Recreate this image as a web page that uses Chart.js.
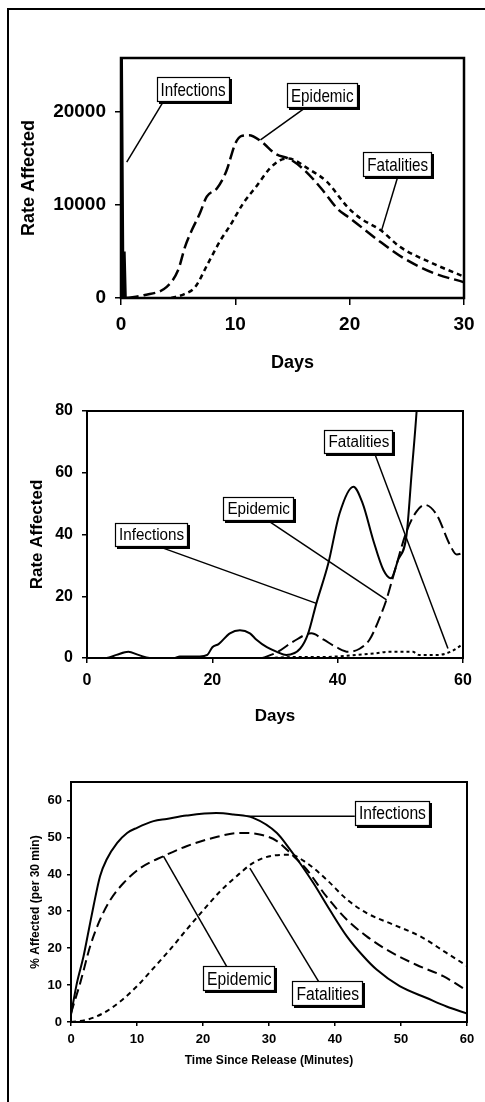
<!DOCTYPE html>
<html>
<head>
<meta charset="utf-8">
<script src="https://cdn.jsdelivr.net/npm/chart.js@4"></script>
<style>
  body { margin: 0; background: #fff; }
  #page { position: relative; width: 485px; height: 1102px; overflow: hidden; }
  #frame { position: absolute; left: 7px; top: 8px; width: 500px; height: 1120px;
           border-left: 2px solid #000; border-top: 2px solid #000; }
  canvas { position: absolute; left: 0; }
</style>
</head>
<body>
<div id="page">
  <div id="frame"></div>
  <canvas id="chart1" width="485" height="385" style="top:0"></canvas>
  <canvas id="chart2" width="485" height="345" style="top:385px"></canvas>
  <canvas id="chart3" width="485" height="372" style="top:730px"></canvas>
</div>
<script>
// ---- Chart 1: days 0-30, rate affected
const c1XTicks = [0, 10, 20, 30];
const c1YTicks = [0, 10000, 20000];
const c1InfDays = [0, 0.04, 0.2, 0.3, 0.4, 0.55];
const c1InfVals = [0, 30000, 0, 5000, 0, 0];
const c1EpiDays = [0.5, 2, 4, 5, 5.6, 6.2, 6.9, 7.5, 8.4, 9.2, 10, 10.5, 11.2, 12.3, 13.5, 14.8, 16, 17.5, 19, 20, 22.5, 24.7, 27.3, 30];
const c1EpiVals = [0, 300, 1200, 3000, 5500, 7300, 9100, 10900, 11800, 13600, 16600, 17400, 17500, 16800, 15500, 14900, 13800, 11800, 9500, 8600, 6200, 4300, 2700, 1700];
const c1FatDays = [4.4, 5.5, 6.5, 7.6, 8.7, 9.5, 10.7, 11.9, 13, 13.9, 14.6, 16.5, 18, 19.8, 20.9, 22.7, 24.4, 27.3, 30];
const c1FatVals = [0, 400, 1200, 3700, 6200, 7700, 10200, 12100, 13900, 14800, 15000, 13800, 12500, 9800, 8600, 7300, 5500, 3700, 2300];

// ---- Chart 2: days 0-60, rate affected
const c2XTicks = [0, 20, 40, 60];
const c2YTicks = [0, 20, 40, 60, 80];
const c2InfDays = [0, 3.1, 4.7, 6.6, 8.2, 10, 14, 14.8, 16.5, 18, 19.2, 20, 21, 22.8, 24.4, 26, 27, 28.7, 30.3, 31.8, 34, 35.3, 36.6, 38.5, 40.3, 42.5, 44, 45.7, 47.3, 48.5, 49.6, 51, 51.8, 52.6, 53.5];
const c2InfVals = [0, 0, 1, 2, 1, 0, 0, 0.5, 0.5, 0.5, 1, 3.5, 4.5, 8, 9, 8, 6, 3.5, 2, 1, 3, 8, 17.7, 30.6, 46.8, 55.5, 50, 38, 28.5, 25.8, 31.5, 40, 59.8, 80, 110];
const c2EpiDays = [28, 30.2, 32.9, 35.8, 37.7, 39.8, 41.7, 43.5, 45.1, 46.5, 47.8, 48.8, 51, 52.6, 53.9, 55.8, 57.9, 59, 60];
const c2EpiVals = [0, 1.7, 5.3, 8, 6, 3.5, 2, 3, 6, 12, 19, 26, 41, 47.5, 49.6, 46.4, 36.7, 33.5, 34];
const c2FatDays = [29, 33, 37, 40, 43, 46, 48, 52, 53, 56, 58, 60];
const c2FatVals = [0, 0.3, 0.3, 0.5, 1, 1.5, 2, 2, 1, 1, 2, 4.5];

// ---- Chart 3: minutes 0-60, % affected per 30 min
const c3XTicks = [0, 10, 20, 30, 40, 50, 60];
const c3YTicks = [0, 10, 20, 30, 40, 50, 60];
const c3InfMins = [0, 0.9, 1.9, 2.7, 3.4, 4.4, 5.4, 7, 8.5, 10, 12.5, 14.5, 17.5, 22, 24.6, 27.6, 31.2, 33.2, 34.7, 36.7, 39.2, 41.8, 44.3, 46.3, 49.8, 53.9, 56.9, 60];
const c3InfVals = [2, 10.6, 17.8, 25, 31.3, 39.5, 44, 48.5, 51.2, 52.6, 54.4, 55, 55.9, 56.6, 56.2, 55.3, 51.2, 46.7, 43, 37.7, 30.4, 23.2, 17.8, 14.2, 9.7, 6.5, 4.2, 2.3];
const c3EpiMins = [0, 1.4, 2.9, 4.4, 6, 8, 10.5, 14, 17.5, 21.6, 25.6, 28.6, 31.2, 33.2, 35.7, 38.7, 41.8, 44.8, 47.8, 52.3, 56.4, 60];
const c3EpiVals = [2.4, 10.6, 20.5, 27.7, 33.2, 37.7, 41.7, 44.9, 47.6, 49.9, 51.2, 50.8, 49, 45.8, 41.3, 34, 27.7, 23.2, 19.6, 15.5, 12.4, 8.5];
const c3FatMins = [0, 2.4, 4.9, 7.5, 10, 12.5, 15, 17.5, 20.1, 22.6, 25.1, 27.6, 30.7, 33.2, 35.7, 38.7, 41.8, 44.8, 48.8, 52.9, 56.9, 60];
const c3FatVals = [0, 0.6, 2.4, 5.6, 9.7, 14.6, 19.6, 25, 30.4, 35.4, 39.5, 43.1, 45.1, 45.3, 43.1, 38.6, 33.2, 29.5, 26.4, 23.2, 18.7, 15.2];

// Callout labels (box centre, leader start, leader end, in data units)
const c1Notes = [
  { text: 'Infections', at: [6.3, 22400], from: [3.7, 21100], to: [0.5, 14600] },
  { text: 'Epidemic', at: [17.6, 21770], from: [16.1, 20430], to: [12.2, 17000] },
  { text: 'Fatalities', at: [24.2, 14300], from: [24.2, 13010], to: [22.8, 7300] }
];
const c2Notes = [
  { text: 'Fatalities', at: [43.4, 70], from: [45.9, 66.2], to: [57.6, 3.1] },
  { text: 'Epidemic', at: [27.4, 48.4], from: [28.7, 44.7], to: [47.8, 18.8] },
  { text: 'Infections', at: [10.3, 40], from: [11.6, 36], to: [36.6, 17.7] }
];
const c3Notes = [
  { text: 'Infections', at: [48.7, 56.5], from: [43, 55.7], to: [26.6, 55.7] },
  { text: 'Epidemic', at: [25.5, 11.7], from: [23.6, 15], to: [14, 44.9] },
  { text: 'Fatalities', at: [38.9, 7.6], from: [37.5, 11], to: [27.1, 41.7] }
];

const FONT = "'Liberation Sans', Arial, sans-serif";
Chart.defaults.font.family = FONT;
Chart.defaults.color = '#000';

function series(label, xs, ys, dash, width, straight) {
  return {
    label: label,
    data: xs.map((x, i) => ({ x: x, y: ys[i] })),
    borderColor: '#000',
    borderWidth: width,
    borderDash: dash,
    pointRadius: 0,
    fill: false,
    tension: 0,
    cubicInterpolationMode: straight ? 'default' : 'monotone'
  };
}

// plot box
const boxPlugin = {
  id: 'plotBox',
  afterDatasetsDraw(chart, args, opts) {
    const { ctx, chartArea: a } = chart;
    ctx.save();
    ctx.strokeStyle = '#000';
    ctx.lineWidth = opts.width;
    ctx.setLineDash([]);
    ctx.strokeRect(a.left, a.top, a.right - a.left, a.bottom - a.top);
    ctx.restore();
  }
};

// boxed labels with leader lines
const calloutPlugin = {
  id: 'callouts',
  afterDraw(chart, args, opts) {
    const { ctx } = chart;
    const x = chart.scales.x, y = chart.scales.y;
    ctx.save();
    ctx.setLineDash([]);
    ctx.strokeStyle = '#000';
    ctx.lineWidth = 1.5;
    opts.items.forEach(n => {
      ctx.beginPath();
      ctx.moveTo(x.getPixelForValue(n.from[0]), y.getPixelForValue(n.from[1]));
      ctx.lineTo(x.getPixelForValue(n.to[0]), y.getPixelForValue(n.to[1]));
      ctx.stroke();
    });
    ctx.font = opts.size + 'px ' + FONT;
    opts.items.forEach(n => {
      const cx = x.getPixelForValue(n.at[0]);
      const cy = y.getPixelForValue(n.at[1]);
      const w = Math.round(ctx.measureText(n.text).width * opts.squeeze + 8);
      const h = opts.boxH;
      const l = Math.round(cx - w / 2), t = Math.round(cy - h / 2);
      ctx.fillStyle = '#000';
      ctx.fillRect(l + 2, t + 2, w, h);
      ctx.fillStyle = '#fff';
      ctx.fillRect(l, t, w, h);
      ctx.lineWidth = 1.2;
      ctx.strokeRect(l + 0.5, t + 0.5, w - 1, h - 1);
      ctx.save();
      ctx.translate(cx, cy + 1);
      ctx.scale(opts.squeeze, 1);
      ctx.fillStyle = '#000';
      ctx.textAlign = 'center';
      ctx.textBaseline = 'middle';
      ctx.fillText(n.text, 0, 0);
      ctx.restore();
    });
    ctx.restore();
  }
};

function axis(min, max, tickValues, tickSize, tickPad, tickLen, title, titleSize, titlePad, fit) {
  return {
    type: 'linear',
    min: min,
    max: max,
    afterBuildTicks: s => { s.ticks = tickValues.map(v => ({ value: v })); },
    ticks: { padding: tickPad, font: { size: tickSize, weight: 'bold' }, callback: v => String(v) },
    grid: { drawOnChartArea: false, drawTicks: true, tickLength: tickLen, color: '#000', lineWidth: 1.5 },
    border: { display: false },
    title: { display: true, text: title, padding: titlePad, font: { size: titleSize, weight: 'bold' } },
    afterFit: fit
  };
}

function makeChart(id, datasets, scales, pad, notes, noteStyle, frameWidth) {
  return new Chart(document.getElementById(id), {
    type: 'line',
    data: { datasets: datasets },
    options: {
      responsive: false,
      animation: false,
      devicePixelRatio: 1,
      layout: { padding: pad },
      scales: scales,
      plugins: {
        legend: { display: false },
        tooltip: { enabled: false },
        plotBox: { width: frameWidth },
        callouts: Object.assign({ items: notes }, noteStyle)
      }
    },
    plugins: [boxPlugin, calloutPlugin]
  });
}

makeChart('chart1',
  [
    series('Infections', c1InfDays, c1InfVals, [], 2.5, true),
    series('Epidemic', c1EpiDays, c1EpiVals, [12, 5], 2.5),
    series('Fatalities', c1FatDays, c1FatVals, [5, 4], 2.5)
  ],
  {
    x: axis(0, 30, c1XTicks, 19, 8, 7, 'Days', 18, { top: 0, bottom: 11 }, s => { s.height = 87; }),
    y: axis(0, 25800, c1YTicks, 19, 9, 6, 'Rate Affected', 18, { top: 18, bottom: 0 }, s => { s.width = 121; })
  },
  { top: 58, right: 21, left: 0, bottom: 0 },
  c1Notes, { size: 19, squeeze: 0.8, boxH: 25 }, 2.5);

makeChart('chart2',
  [
    series('Infections', c2InfDays, c2InfVals, [], 2),
    series('Epidemic', c2EpiDays, c2EpiVals, [12, 5], 2),
    series('Fatalities', c2FatDays, c2FatVals, [3, 3], 2)
  ],
  {
    x: axis(0, 60, c2XTicks, 16, 8, 5, 'Days', 17, { top: 0, bottom: 3 }, s => { s.height = 72; }),
    y: axis(0, 80, c2YTicks, 16, 9, 5, 'Rate Affected', 17, { top: 27, bottom: 0 }, s => { s.width = 87; })
  },
  { top: 26, right: 22, left: 0, bottom: 0 },
  c2Notes, { size: 16, squeeze: 0.95, boxH: 24 }, 2);

makeChart('chart3',
  [
    series('Infections', c3InfMins, c3InfVals, [], 2),
    series('Epidemic', c3EpiMins, c3EpiVals, [10, 5], 2),
    series('Fatalities', c3FatMins, c3FatVals, [5, 4], 2)
  ],
  {
    x: axis(0, 60, c3XTicks, 13, 6, 4, 'Time Since Release (Minutes)', 12, { top: 0, bottom: 34 }, s => { s.height = 80; }),
    y: axis(0, 65, c3YTicks, 13, 5, 4, '% Affected (per 30 min)', 12, { top: 28, bottom: 0 }, s => { s.width = 71; })
  },
  { top: 52, right: 18, left: 0, bottom: 0 },
  c3Notes, { size: 18, squeeze: 0.87, boxH: 25 }, 2);
</script>
</body>
</html>
